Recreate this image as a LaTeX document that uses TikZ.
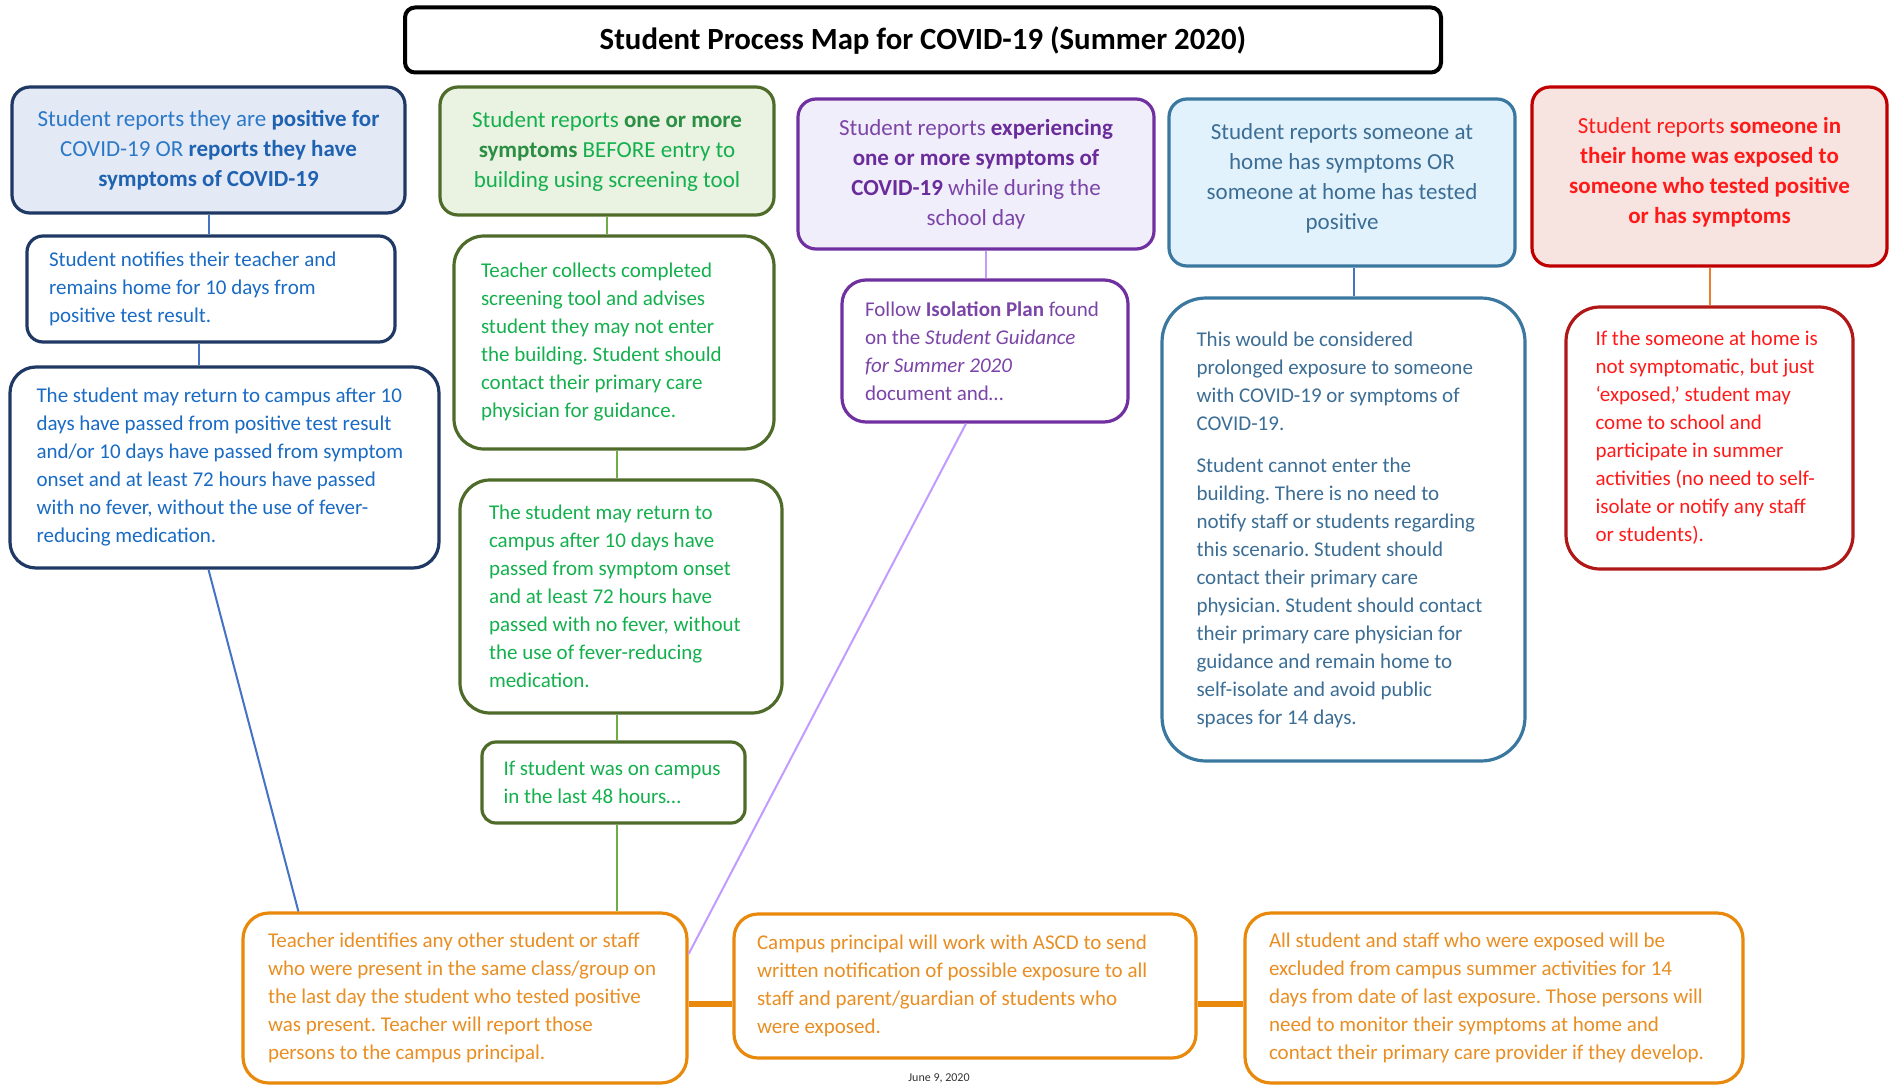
\documentclass[tikz,border=0pt]{standalone}
\usepackage{fontspec}
\setmainfont{Carlito}
\usetikzlibrary{calc}
\definecolor{navy}{HTML}{1F3864}
\definecolor{bfill}{HTML}{E4EAF5}
\definecolor{btext}{HTML}{2B78C8}
\definecolor{bbold}{HTML}{1F62B2}
\definecolor{bbody}{HTML}{1A6BC4}
\definecolor{gborder}{HTML}{4E6B2A}
\definecolor{gfill}{HTML}{EAF2E2}
\definecolor{gtext}{HTML}{14B04E}
\definecolor{gbold}{HTML}{2A8E43}
\definecolor{pborder}{HTML}{7030A0}
\definecolor{pfill}{HTML}{F1EEFB}
\definecolor{ptext}{HTML}{7B45A8}
\definecolor{pbold}{HTML}{6A2C9A}
\definecolor{tborder}{HTML}{3B78A0}
\definecolor{tfill}{HTML}{E1F2FC}
\definecolor{ttext}{HTML}{3C6E95}
\definecolor{rborder}{HTML}{C00000}
\definecolor{rborder2}{HTML}{B01818}
\definecolor{rfill}{HTML}{F7E3DF}
\definecolor{rtext}{HTML}{FF1A1A}
\definecolor{oborder}{HTML}{E8890C}
\definecolor{otext}{HTML}{E98E22}
\definecolor{lblue}{HTML}{4472C4}
\definecolor{lgreen}{HTML}{70AD47}
\definecolor{lpurple}{HTML}{C29BFF}
\definecolor{lorange}{HTML}{ED7D31}
\newcommand\bodyf{\fontsize{10.5}{14}\selectfont\frenchspacing}
\newcommand\hdrf{\fontsize{11.5}{15}\selectfont\frenchspacing}
\newcommand\firstln[2]{\makebox[#1][l]{#2}}
\begin{document}
\begin{tikzpicture}[x=0.5pt,y=-0.5pt,
  bx/.style={draw, line width=1.6pt, fill=white, inner sep=0pt, align=left, font=\bodyf},
  hd/.style={draw, line width=1.6pt, inner sep=0pt, align=center, font=\hdrf, rounded corners=9pt},
  conn/.style={line width=1pt},
  thick conn/.style={line width=3pt, draw=oborder}]
\useasboundingbox[fill=white] (0,0) rectangle (1894,1086);

% title
\node[draw=black, line width=2pt, rounded corners=5pt, minimum width=518pt, minimum height=32.5pt,
  font=\fontsize{15.4}{18}\selectfont\bfseries] (T) at (923,40) {Student Process Map for COVID-19 (Summer 2020)};

% header row
\node[hd, draw=navy, fill=bfill, text=btext, minimum width=196.5pt, minimum height=63pt] (B1) at (208.5,150)
 {Student reports they are \textbf{\color{bbold}positive for}\\ COVID-19 OR \textbf{\color{bbold}reports they have}\\ \textbf{\color{bbold}symptoms of COVID-19}};
\node[hd, draw=gborder, fill=gfill, text=gtext, minimum width=167pt, minimum height=64pt] (B2) at (607,151)
 {Student reports \textbf{\color{gbold}one or more}\\ \textbf{\color{gbold}symptoms} BEFORE entry to\\ building using screening tool};
\node[hd, draw=pborder, fill=pfill, text=ptext, minimum width=178pt, minimum height=75pt] (B3) at (976,174)
 {Student reports \textbf{\color{pbold}experiencing}\\ \textbf{\color{pbold}one or more symptoms of}\\ \textbf{\color{pbold}COVID-19} while during the\\ school day};
\node[hd, draw=tborder, fill=tfill, text=ttext, minimum width=173pt, minimum height=83.5pt] (B4) at (1342,182.5)
 {Student reports someone at\\ home has symptoms OR\\ someone at home has tested\\ positive\rule[-6pt]{0pt}{0pt}};
\node[hd, draw=rborder, fill=rfill, text=rtext, minimum width=177.5pt, minimum height=89.5pt] (B5) at (1709.5,176.5)
 {Student reports \textbf{someone in}\\ \textbf{their home was exposed to}\\ \textbf{someone who tested positive}\\ \textbf{or has symptoms}\rule[-6pt]{0pt}{0pt}};

% blue column
\node[bx, draw=navy, text=bbody, rounded corners=8pt, minimum width=184pt, minimum height=53pt] (B1a) at (211,289)
 {\firstln{162pt}{Student notifies their teacher and}\\ remains home for 10 days from\\ positive test result.};
\node[bx, draw=navy, text=bbody, rounded corners=13pt, minimum width=214.5pt, minimum height=100.5pt] (B1b) at (224.5,467.5)
 {\firstln{188pt}{The student may return to campus after 10}\\ days have passed from positive test result\\ and/or 10 days have passed from symptom\\ onset and at least 72 hours have passed\\ with no fever, without the use of fever-\\ reducing medication.};

% green column
\node[bx, draw=gborder, text=gtext, rounded corners=15pt, minimum width=160pt, minimum height=106.5pt] (B2a) at (614,342.5)
 {\firstln{133pt}{Teacher collects completed}\\ screening tool and advises\\ student they may not enter\\ the building. Student should\\ contact their primary care\\ physician for guidance.};
\node[bx, draw=gborder, text=gtext, rounded corners=15pt, minimum width=161pt, minimum height=116.5pt] (B2b) at (621,596.5)
 {\firstln{132pt}{The student may return to}\\ campus after 10 days have\\ passed from symptom onset\\ and at least 72 hours have\\ passed with no fever, without\\ the use of fever-reducing\\ medication.};
\node[bx, draw=gborder, text=gtext, rounded corners=7pt, minimum width=131.5pt, minimum height=40.5pt] (B2c) at (613.5,782.5)
 {\firstln{110pt}{If student was on campus}\\ in the last 48 hours…};

% purple column
\node[bx, draw=pborder, text=ptext, rounded corners=12pt, minimum width=143pt, minimum height=71pt] (B3a) at (985,351)
 {\firstln{120pt}{Follow \textbf{Isolation Plan} found}\\ on the \textit{Student Guidance}\\ \textit{for Summer 2020}\\ document and…};

% teal column
\node[bx, draw=tborder, text=ttext, rounded corners=22pt, minimum width=181.5pt, minimum height=231.5pt] (B4a) at (1343.5,529.5)
 {\firstln{147pt}{This would be considered}\\ prolonged exposure to someone\\ with COVID-19 or symptoms of\\ COVID-19.\\[7pt]
  Student cannot enter the\\ building. There is no need to\\ notify staff or students regarding\\ this scenario. Student should\\ contact their primary care\\ physician. Student should contact\\ their primary care physician for\\ guidance and remain home to\\ self-isolate and avoid public\\ spaces for 14 days.};

% red column
\node[bx, draw=rborder2, text=rtext, rounded corners=17pt, minimum width=143.5pt, minimum height=131pt] (B5a) at (1709.5,438)
 {\firstln{114pt}{If the someone at home is}\\ not symptomatic, but just\\ ‘exposed,’ student may\\ come to school and\\ participate in summer\\ activities (no need to self-\\ isolate or notify any staff\\ or students).};

% orange row
\node[bx, draw=oborder, text=otext, rounded corners=13pt, minimum width=222pt, minimum height=85pt] (O1) at (465,998)
 {\firstln{197pt}{Teacher identifies any other student or staff}\\ who were present in the same class/group on\\ the last day the student who tested positive\\ was present. Teacher will report those\\ persons to the campus principal.};
\node[bx, draw=oborder, text=otext, rounded corners=12pt, minimum width=231pt, minimum height=72pt] (O2) at (965,986)
 {\firstln{208pt}{Campus principal will work with ASCD to send}\\ written notification of possible exposure to all\\ staff and parent/guardian of students who\\ were exposed.};
\node[bx, draw=oborder, text=otext, rounded corners=13pt, minimum width=249pt, minimum height=85pt] (O3) at (1494,998)
 {\firstln{225pt}{All student and staff who were exposed will be}\\ excluded from campus summer activities for 14\\ days from date of last exposure. Those persons will\\ need to monitor their symptoms at home and\\ contact their primary care provider if they develop.};

\node[font=\fontsize{6}{7}\selectfont, text=black!80, inner sep=0pt] (D) at (939,1078) {June 9, 2020};

% connectors
\draw[conn, lblue] (B1.south) -- (B1.south |- B1a.north);
\draw[conn, lblue] ($(B1a.south)+(-12,0)$) coordinate (c1) -- (c1 |- B1b.north);
\draw[conn, lblue] ($(B1b.south)+(-16,0)$) -- ($(O1.north west)+(57,0)$);
\draw[conn, lgreen] (B2.south) -- (B2.south |- B2a.north);
\draw[conn, lgreen] ($(B2a.south)+(3,0)$) coordinate (c2) -- (c2 |- B2b.north);
\draw[conn, lgreen] ($(B2c.north)+(3,0)$) coordinate (c3) -- (c3 |- B2b.south);
\draw[conn, lgreen] ($(B2c.south)+(3,0)$) coordinate (c4) -- (c4 |- O1.north);
\draw[conn, lpurple] ($(B3a.north)+(1,0)$) coordinate (c5) -- (c5 |- B3.south);
\draw[conn, lpurple] ($(B3a.south)+(-19,0)$) -- ($(O1.east)+(0,-44)$);
\draw[conn, lblue] ($(B4.south)+(12,0)$) coordinate (c6) -- (c6 |- B4a.north);
\draw[conn, lorange] (B5.south) -- (B5a.north);
\draw[thick conn] ($(O1.east)+(0,6)$) -- ($(O2.west)+(0,18)$);
\draw[thick conn] ($(O2.east)+(0,18)$) -- ($(O3.west)+(0,6)$);
\end{tikzpicture}
\end{document}
